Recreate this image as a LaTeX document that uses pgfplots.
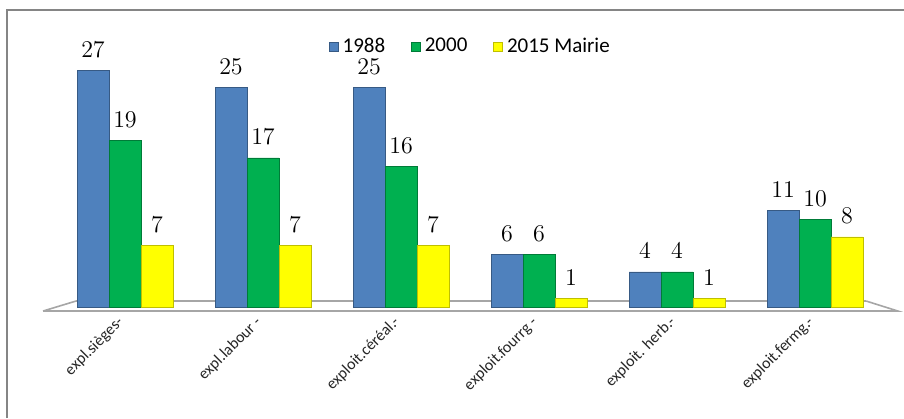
\documentclass[border=0pt]{standalone}
\usepackage{pgfplots}
\pgfplotsset{compat=1.18}
\usepackage{fontspec}
\setmainfont{Carlito}
\newfontfamily\labfont{Liberation Serif}
\definecolor{cblue}{HTML}{4F81BD}
\definecolor{cgreen}{HTML}{00B050}
\definecolor{cyellow}{HTML}{FFFF00}
\definecolor{floorg}{HTML}{A6A6A6}
\begin{document}
\begin{tikzpicture}[x=1pt,y=1pt]
\useasboundingbox (0,0) rectangle (452,209);
\draw[floorg!80!black, line width=0.6pt] (3.5,0) -- (3.5,204) -- (452,204);
\begin{axis}[
  at={(21.1pt,52.87pt)}, anchor=south west,
  scale only axis, width=429.2pt, height=134.2pt,
  xmin=-0.6, xmax=5.62, ymin=-0.6, ymax=30,
  axis line style={draw=none},
  ytick=\empty, ymajorticks=false,
  xtick={0,1,2,3,4,5},
  xticklabels={expl.sièges-, expl.labour -, exploit.céréal.-, exploit.fourrg -, exploit. herb.-, exploit.fermg.-},
  xtick style={draw=none},
  xticklabel style={rotate=45, anchor=north east, font=\fontsize{8}{9}\selectfont, text=black!85, yshift=8.65pt, xshift=2.35pt},
  ybar=0pt, bar width=16pt,
  clip=false,
  nodes near coords,
  every node near coord/.append style={font=\labfont\fontsize{12}{13}\selectfont, text=black, yshift=3pt},
  legend columns=3,
  legend style={draw=none, fill=none, at={(0.5,0.99)}, anchor=center,
    font=\fontsize{10.5}{12}\selectfont, column sep=0pt,
    /tikz/every even column/.append style={column sep=11pt}},
  legend image code/.code={\fill[#1] (0pt,-2.25pt) rectangle (4.5pt,2.25pt);},
]
\draw[floorg, line width=0.8pt] (axis cs:-0.355,0.68) -- (axis cs:5.37,0.68);
\addplot[fill=cblue, draw=cblue!70!black, line width=0.3pt] coordinates {(0,27) (1,25) (2,25) (3,6) (4,4) (5,11)};
\addplot[fill=cgreen, draw=cgreen!70!black, line width=0.3pt] coordinates {(0,19) (1,17) (2,16) (3,6) (4,4) (5,10)};
\addplot[fill=cyellow, draw=cyellow!75!black, line width=0.3pt] coordinates {(0,7) (1,7) (2,7) (3,1) (4,1) (5,8)};
\legend{1988, 2000, 2015 Mairie}
\draw[floorg, line width=0.8pt] (axis cs:-0.594,-0.46) -- (axis cs:5.60,-0.46) -- (axis cs:5.37,0.68);
\draw[floorg, line width=0.8pt] (axis cs:-0.594,-0.46) -- (axis cs:-0.355,0.68);
\end{axis}
\end{tikzpicture}
\end{document}
